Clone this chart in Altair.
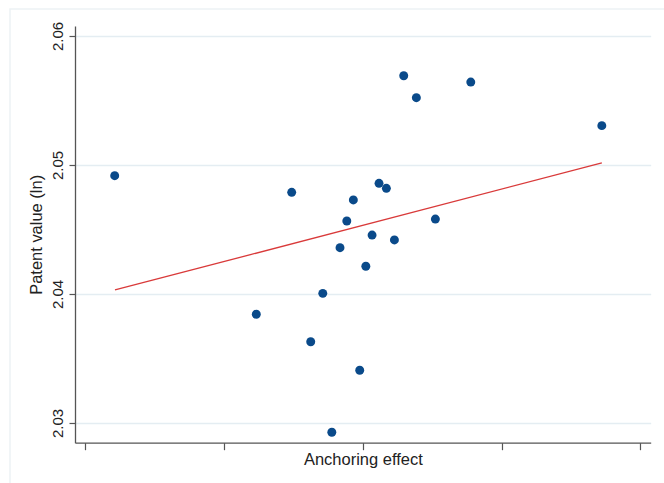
import altair as alt
import pandas as pd

# Anchoring effect (x, unlabeled ticks at -2..2) and Patent value (ln)
anchoring = [-1.787, -0.512, -0.767, -0.375, -0.288, -0.223, -0.164, -0.115, -0.068, -0.022,
             0.022, 0.067, 0.117, 0.170, 0.228, 0.295, 0.386, 0.523, 0.778, 1.722]
patent_ln = [2.04917, 2.04788, 2.03843, 2.03630, 2.04005, 2.02928, 2.04359, 2.04566, 2.04729, 2.03409,
             2.04215, 2.04457, 2.04858, 2.04819, 2.04419, 2.05692, 2.05522, 2.04581, 2.05643, 2.05305]

# fitted line end points
fit_x = [-1.785, 1.722]
fit_y = [2.04031, 2.05016]

x_ticks = [-2, -1, 0, 1, 2]
y_ticks = [2.03, 2.04, 2.05, 2.06]

pts = pd.DataFrame({"x": anchoring, "y": patent_ln})
fit = pd.DataFrame({"x": fit_x, "y": fit_y})

xscale = alt.Scale(domain=[-2.073, 2.074], nice=False, zero=False)
yscale = alt.Scale(domain=[2.028473, 2.060775], nice=False, zero=False)

FONT = "Liberation Sans"

xaxis = alt.Axis(values=x_ticks, labels=False, grid=False, tickSize=7, tickColor="#555555",
                 domainColor="#555555", domainWidth=1.3, tickWidth=1.2,
                 title="Anchoring effect", titleFont=FONT, titleFontSize=16.5,
                 titleFontWeight="normal", titleColor="#222222", titlePadding=1)
yaxis = alt.Axis(values=y_ticks, format=".2f", grid=True, gridColor="#e4edf2", gridWidth=1.5,
                 tickSize=6, tickColor="#555555", domainColor="#555555", domainWidth=1.3,
                 tickWidth=1.2, labelAngle=270, labelAlign="center", labelBaseline="alphabetic",
                 labelPadding=7, labelFont=FONT, labelFontSize=15, labelColor="#222222",
                 title="Patent value (ln)", titleFont=FONT, titleFontSize=16.5,
                 titleFontWeight="normal", titleColor="#222222", titlePadding=6)

frame = alt.Chart(pd.DataFrame({"a": [0]})).mark_rect(
    fill=None, stroke="#edf2f5", strokeWidth=1.5
).encode(x=alt.value(-65), x2=alt.value(600), y=alt.value(-17), y2=alt.value(470))

points = alt.Chart(pts).mark_circle(size=80, opacity=1, color="#0a4a8a").encode(
    x=alt.X("x:Q", scale=xscale, axis=xaxis),
    y=alt.Y("y:Q", scale=yscale, axis=yaxis),
)

line = alt.Chart(fit).mark_line(color="#d93a3a", strokeWidth=1.3).encode(
    x=alt.X("x:Q", scale=xscale),
    y=alt.Y("y:Q", scale=yscale),
)

chart = alt.layer(frame, points, line).properties(
    width=575.7, height=416.7,
    autosize=alt.AutoSizeParams(type="none"),
    padding={"left": 75, "top": 26, "right": 13, "bottom": 40},
    background="white",
).configure_view(stroke=None)

chart.save("out.html", embed_options={"renderer": "svg", "actions": False})
